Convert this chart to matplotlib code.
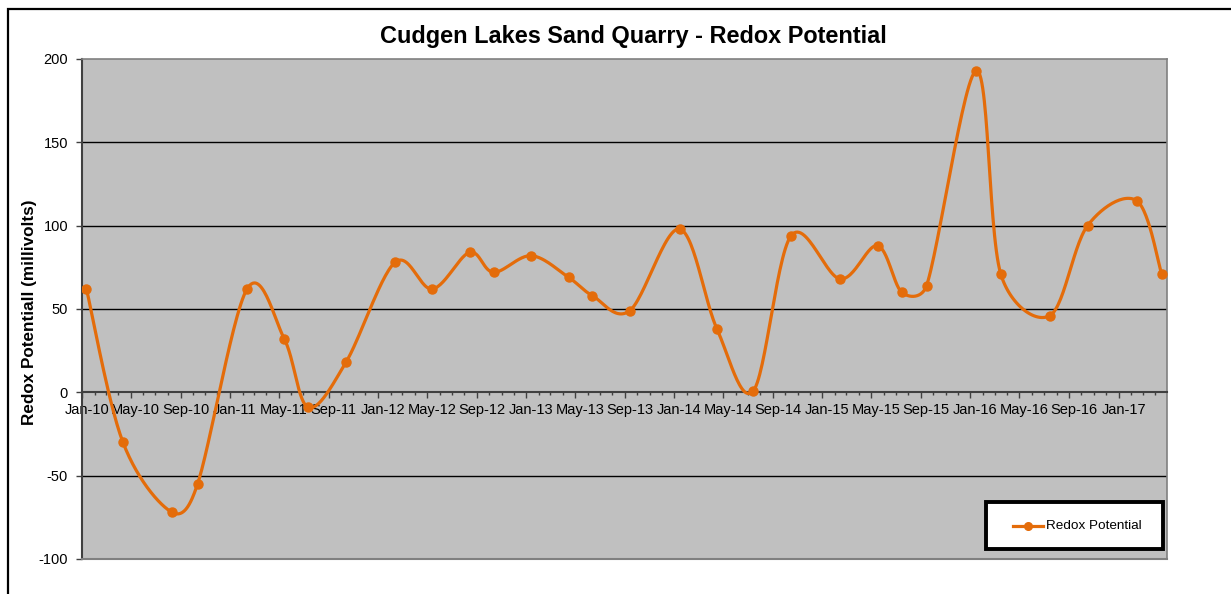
import numpy as np
import pandas as pd
import matplotlib
matplotlib.use("Agg")
import matplotlib.pyplot as plt
import matplotlib.dates as mdates
import matplotlib.transforms as mtransforms
from matplotlib.patches import Rectangle

# ----------------------------
# Data
# ----------------------------
sample_dates = [
    "2010-01-12", "2010-04-12", "2010-08-11", "2010-10-13",
    "2011-02-12", "2011-05-15", "2011-07-13", "2011-10-14",
    "2012-02-12", "2012-05-14", "2012-08-14", "2012-10-12",
    "2013-01-13", "2013-04-15", "2013-06-13", "2013-09-13",
    "2014-01-14", "2014-04-16", "2014-07-15", "2014-10-16",
    "2015-02-14", "2015-05-17", "2015-07-16", "2015-09-15",
    "2016-01-16", "2016-03-16", "2016-07-15", "2016-10-16",
    "2017-02-14", "2017-04-17",
]
redox_mv = [
    62, -30, -72, -55,
    62, 32, -9, 18,
    78, 62, 84, 72,
    82, 69, 58, 49,
    98, 38, 1, 94,
    68, 88, 60, 64,
    193, 71, 46, 100,
    115, 71,
]
series_name = "Redox Potential"
title = "Cudgen Lakes Sand Quarry - Redox Potential"
y_label = "Redox Potentiall (millivolts)"
y_ticks = [-100, -50, 0, 50, 100, 150, 200]
x_start, x_end = "2010-01-01", "2017-04-30"

LINE_COLOR = "#E46C0A"
FONT = "Liberation Sans"

W, H = 1231, 594
AX_W, AX_H = 1085, 500


def excel_smooth(px, py, n=30):
    # Bezier segments like Excel's smoothed line: Catmull-Rom tangents,
    # clamped so a control point never reaches past half the segment.
    pts = np.column_stack([px, py]).astype(float)
    out = []
    t = np.linspace(0, 1, n)[:, None]
    for i in range(len(pts) - 1):
        p0 = pts[i - 1] if i > 0 else pts[i]
        p1, p2 = pts[i], pts[i + 1]
        p3 = pts[i + 2] if i + 2 < len(pts) else pts[i + 1]
        d12 = np.hypot(*(p2 - p1))
        d02 = np.hypot(*(p2 - p0))
        d13 = np.hypot(*(p3 - p1))
        f1 = min(1 / 6, d12 / (2 * d02)) if d02 > 0 else 0
        f2 = min(1 / 6, d12 / (2 * d13)) if d13 > 0 else 0
        c1 = p1 + (p2 - p0) * f1
        c2 = p2 - (p3 - p1) * f2
        seg = (1 - t) ** 3 * p1 + 3 * (1 - t) ** 2 * t * c1 + 3 * (1 - t) * t ** 2 * c2 + t ** 3 * p2
        out.append(seg if i == 0 else seg[1:])
    return np.vstack(out)


x = mdates.date2num(pd.to_datetime(sample_dates))
y = np.array(redox_mv, dtype=float)
x0 = mdates.date2num(pd.Timestamp(x_start))
x1 = mdates.date2num(pd.Timestamp(x_end))
y0, y1 = y_ticks[0], y_ticks[-1]

# smooth in pixel space (Excel does it on screen), then map back to data
sx = AX_W / (x1 - x0)
sy = AX_H / (y1 - y0)
curve = excel_smooth(x * sx, y * sy)
curve_x, curve_y = curve[:, 0] / sx, curve[:, 1] / sy

# ----------------------------
# Figure
# ----------------------------
fig = plt.figure(figsize=(W / 100, H / 100), dpi=100)
fig.patch.set_facecolor("white")

# outer chart frame
fig.patches.append(Rectangle((8 / W, -0.05), 1.2, (H - 9) / H + 0.05,
                             transform=fig.transFigure, fill=False,
                             edgecolor="black", linewidth=1.6))

ax = fig.add_axes([82 / W, (H - 559) / H, AX_W / W, AX_H / H])
ax.set_facecolor("#C0C0C0")
ax.set_xlim(x0, x1)
ax.set_ylim(y0, y1)

# gridlines
for v in y_ticks:
    if v in (y0, 0, y1):
        continue
    ax.axhline(v, color="black", linewidth=1.0, zorder=1)

# line + markers
ax.plot(curve_x, curve_y, color=LINE_COLOR, linewidth=2.3,
        solid_capstyle="round", zorder=3)
ax.plot(x, y, linestyle="none", marker="o", markersize=6.5,
        color=LINE_COLOR, zorder=4)

# spines
ax.spines["left"].set_color("#404040")
ax.spines["left"].set_linewidth(1.5)
for s in ("top", "right"):
    ax.spines[s].set_color("#808080")
    ax.spines[s].set_linewidth(1.2)
ax.spines["bottom"].set_position(("data", 0))
ax.spines["bottom"].set_color("#404040")
ax.spines["bottom"].set_linewidth(1.5)
ax.plot([0, 1], [0, 0], transform=ax.transAxes, color="#808080",
        linewidth=1.5, clip_on=False, zorder=5)

# y axis
ax.set_yticks(y_ticks)
ax.set_yticklabels([str(v) for v in y_ticks], fontfamily=FONT, fontsize=10.5)
ax.tick_params(axis="y", direction="out", length=4, width=1, color="#404040", pad=6)

# x axis (date axis, major every 4 months, minor monthly)
ax.xaxis.set_major_locator(mdates.MonthLocator(bymonth=[1, 5, 9]))
ax.xaxis.set_minor_locator(mdates.MonthLocator())
ax.xaxis.set_major_formatter(mdates.DateFormatter("%b-%y"))
ax.tick_params(axis="x", which="major", direction="out", length=4, width=1,
               color="#404040", pad=4, labelsize=10.5)
ax.tick_params(axis="x", which="minor", direction="out", length=2.5, width=1,
               color="#404040")
shift = mtransforms.ScaledTranslation(5 / 100, 0, fig.dpi_scale_trans)
for lab in ax.get_xticklabels():
    lab.set_fontfamily(FONT)
    lab.set_transform(lab.get_transform() + shift)

# titles
fig.text(633 / W, 1 - 37 / H, title, ha="center", va="center",
         fontfamily=FONT, fontweight="bold", fontsize=16.9)
fig.text(30 / W, 1 - 312 / H, y_label, ha="center", va="center", rotation=90,
         fontfamily=FONT, fontweight="bold", fontsize=12.3)

# legend box
fig.patches.append(Rectangle((986 / W, 1 - 549 / H), 177 / W, 47 / H,
                             transform=fig.transFigure, facecolor="white",
                             edgecolor="black", linewidth=2.8, zorder=10))
ly = 1 - 526 / H
fig.lines.append(plt.Line2D([1013 / W, 1043 / W], [ly, ly], transform=fig.transFigure,
                            color=LINE_COLOR, linewidth=2.3, zorder=11))
fig.lines.append(plt.Line2D([1028 / W], [ly], transform=fig.transFigure, marker="o",
                            markersize=5.5, color=LINE_COLOR, zorder=11))
fig.text(1046 / W, ly, series_name, ha="left", va="center",
         fontfamily=FONT, fontsize=9.7, zorder=12)

fig.savefig("out.png", dpi=100)
